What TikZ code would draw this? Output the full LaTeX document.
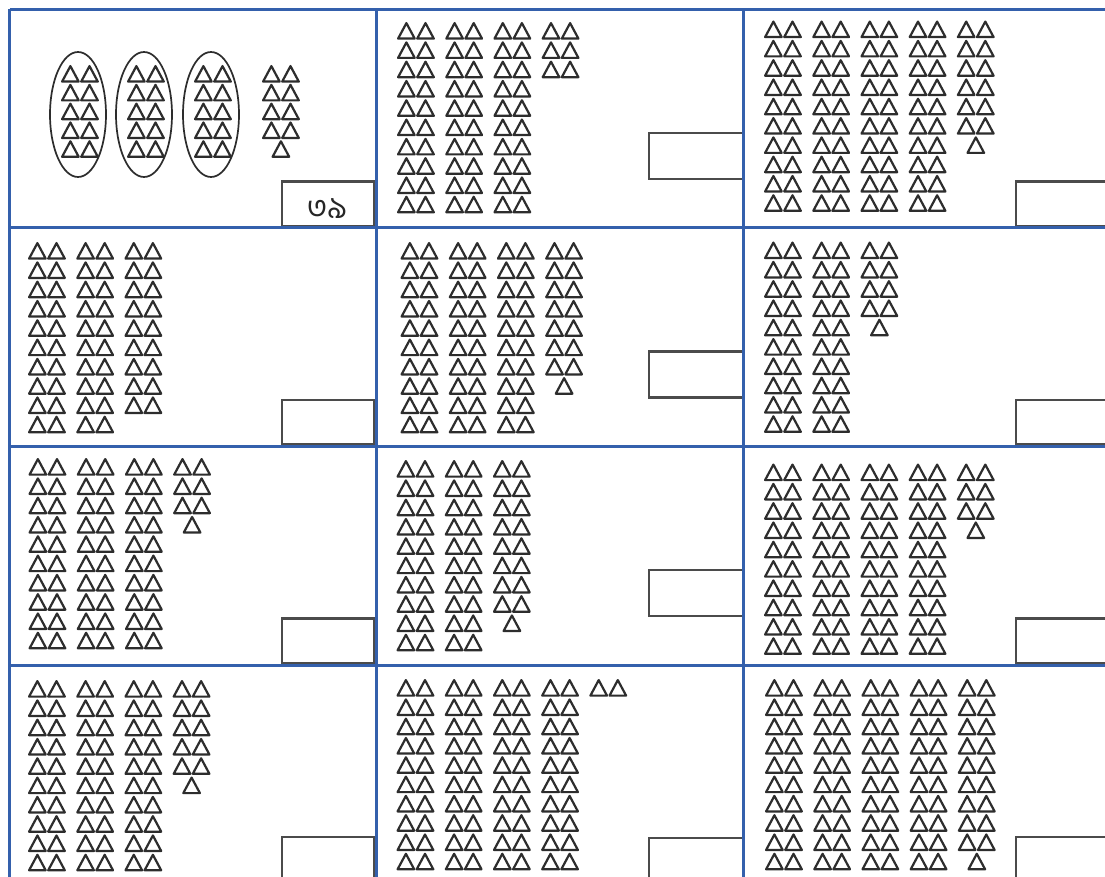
\documentclass[tikz,border=0pt]{standalone}
\usepackage{fontspec}
\newfontfamily\bnfont[Script=Bengali]{Hind Siliguri}
\definecolor{gridblue}{RGB}{52,96,172}
\definecolor{trigray}{RGB}{45,45,45}
\definecolor{boxgray}{RGB}{75,75,75}
\tikzset{
  tristroke/.style={draw=trigray,line width=2.2pt,line join=round},
  tri/.pic={\draw[tristroke] (1.1,16.6)--(17.7,16.6)--(9.4,1.1)--cycle;},
  tripair/.pic={\draw[tristroke] (1.1,16.6)--(17.7,16.6)--(9.4,1.1)--cycle
                 (20.2,16.6)--(36.8,16.6)--(28.5,1.1)--cycle;},
  ansbox/.style={draw=boxgray,line width=2.2pt},
  gridline/.style={draw=gridblue,line width=3pt},
  oval/.style={draw=trigray,line width=1.7pt},
}
% #1 X, #2 Y, #3 dx, #4 dy, #5 full columns, #6 pairs in last column, #7 single (1/0)
\newcommand{\TriCell}[7]{%
  \foreach \i in {1,...,#5}{%
    \foreach \j in {0,...,9}{%
      \pic at ({#1+#3+48.2*(\i-1)},{#2+#4+19.3*\j}) {tripair};
    }%
  }%
  \foreach \j in {1,...,#6}{%
    \pic at ({#1+#3+48.2*#5},{#2+#4+19.3*(\j-1)}) {tripair};
  }%
  \ifnum#7=1 \pic at ({#1+#3+48.2*#5+9.6},{#2+#4+19.3*#6}) {tri};\fi
}
% #1 X, #2 Y : bottom answer box ; middle answer box
\newcommand{\BotBox}[2]{\draw[ansbox] ({#1+272.5},{#2+172}) rectangle ({#1+365},{#2+216.5});}
\newcommand{\MidBox}[2]{\draw[ansbox] ({#1+272.5},{#2+123.5}) rectangle ({#1+367},{#2+169.5});}
\begin{document}
\begin{tikzpicture}[x=1pt,y=-1pt]
\useasboundingbox (0,0) rectangle (1105,877);
\fill[white] (0,0) rectangle (1105,877);
\clip (0,0) rectangle (1105,877);
% ---- cell 1 : grouped tens ----
\foreach \cx in {78,144,211}{%
  \draw[oval] (\cx,114.5) ellipse [x radius=28, y radius=62.5];
  \foreach \j in {0,...,4}{\pic at ({\cx-17},{65+18.8*\j}) {tripair};}
}
\foreach \j in {0,...,3}{\pic at (262,{65+18.8*\j}) {tripair};}
\pic at (271.5,{65+18.8*4}) {tri};
\BotBox{9.5}{9.5}
\node[inner sep=0pt,font=\bnfont\fontsize{31}{31}\selectfont,text=black!85] (ans1) at (327,209) {৩৯};
% ---- row 1 ----
\TriCell{376.5}{9.5}{20.5}{12.5}{3}{3}{0}
\MidBox{376.5}{9.5}
\TriCell{743.5}{9.5}{20.5}{11}{4}{6}{1}
\BotBox{743.5}{9.5}
% ---- row 2 ----
\TriCell{9.5}{228}{18.5}{14}{2}{9}{0}
\BotBox{9.5}{228}
\TriCell{376.5}{228}{24}{14}{3}{7}{1}
\MidBox{376.5}{228}
\TriCell{743.5}{228}{20.5}{13.5}{2}{4}{1}
\BotBox{743.5}{228}
% ---- row 3 ----
\TriCell{9.5}{446.5}{19}{11.5}{3}{3}{1}
\BotBox{9.5}{446.5}
\TriCell{376.5}{446.5}{20}{13.5}{2}{8}{1}
\MidBox{376.5}{446.5}
\TriCell{743.5}{446.5}{20.5}{17}{4}{3}{1}
\BotBox{743.5}{446.5}
% ---- row 4 ----
\TriCell{9.5}{665}{18.5}{15}{3}{5}{1}
\BotBox{9.5}{665}
\TriCell{376.5}{665}{20}{14}{4}{1}{0}
\draw[ansbox] (649,838) rectangle (743.5,890);
\TriCell{743.5}{665}{21.5}{14}{4}{9}{1}
\BotBox{743.5}{665}
% ---- grid ----
\foreach \gx in {9.5,376.5,743.5}{\draw[gridline] (\gx,9.5) -- (\gx,890);}
\foreach \gy in {9.5,228,446.5,665}{\draw[gridline] (9.5,\gy) -- (1120,\gy);}
\end{tikzpicture}
\end{document}
